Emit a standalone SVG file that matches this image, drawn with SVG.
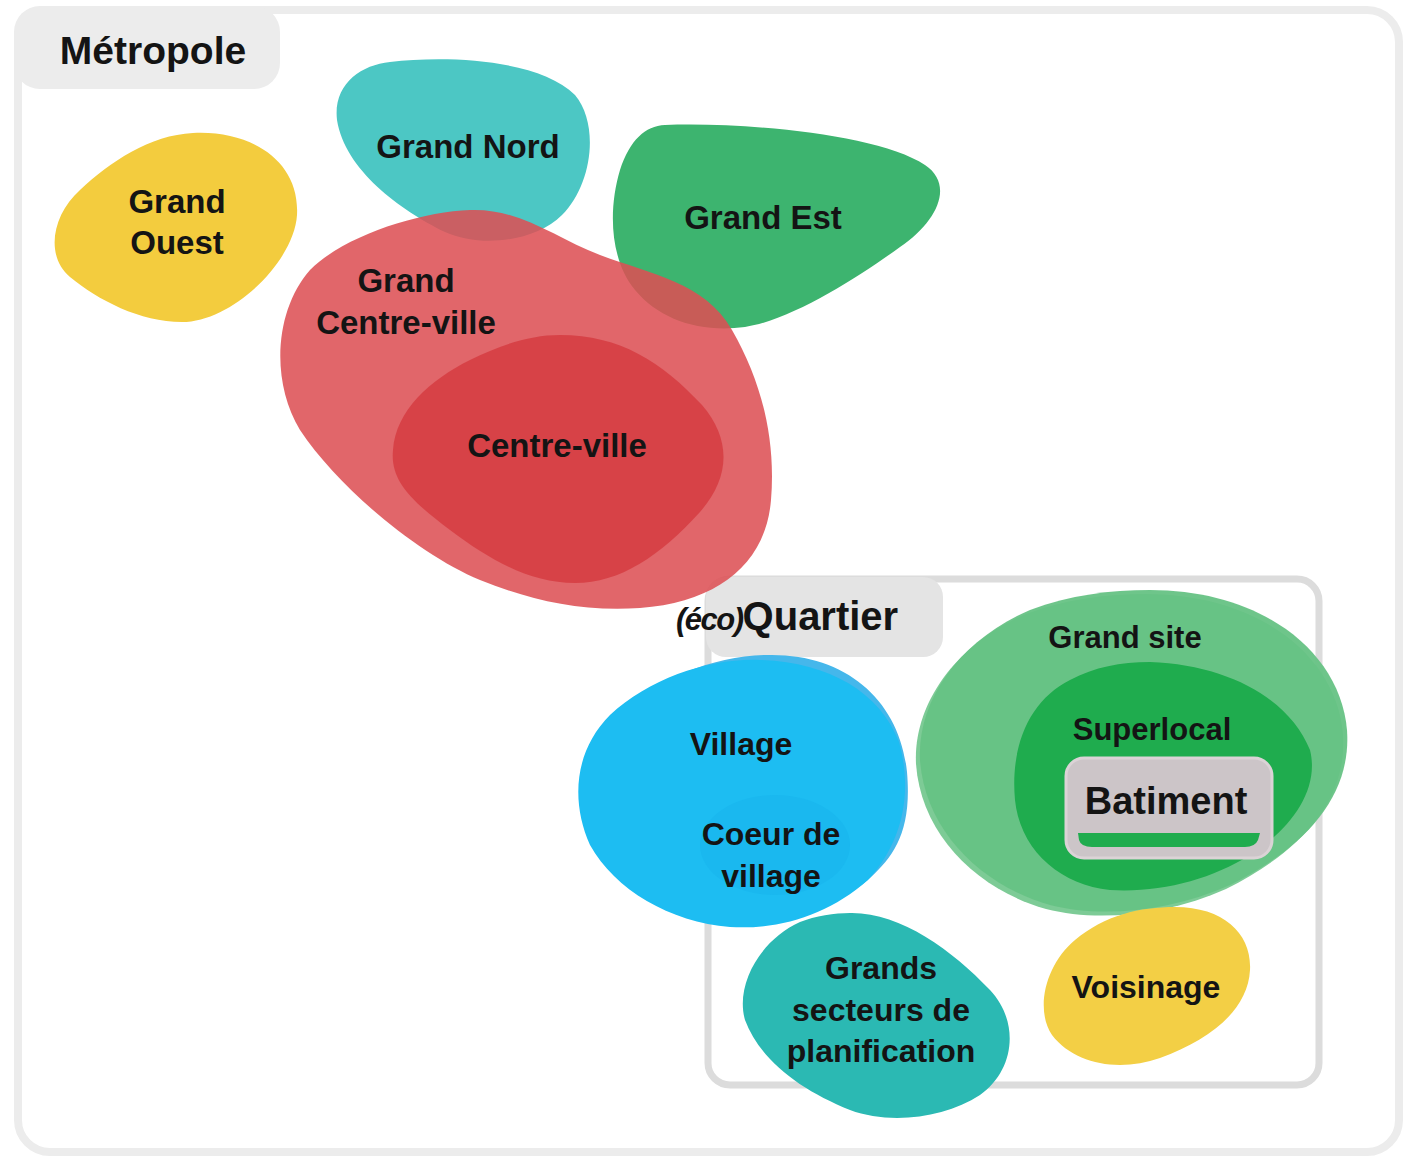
<svg xmlns="http://www.w3.org/2000/svg" width="1410" height="1158" viewBox="0 0 1410 1158">
<style>
.lbl{font-family:"Liberation Sans",Arial,sans-serif;font-weight:700;fill:#141414;text-anchor:middle}
.frame{fill:none;stroke:#ececec;stroke-width:8}
.qframe{fill:none;stroke:#dcdcdc;stroke-width:7}
.tag{fill:#ececec}
</style>
<rect width="1410" height="1158" fill="#ffffff"/>
<g id="metropole">
  <rect class="frame" x="18" y="10" width="1381" height="1142" rx="32"/>
  <rect class="tag" x="14" y="6" width="266" height="83" rx="26"/>
  <text class="lbl" x="153" y="64" font-size="39">Métropole</text>
</g>
<g id="quartier">
  <rect class="qframe" x="708" y="579" width="611" height="506" rx="22"/>
  <rect x="706" y="577" width="237" height="80" rx="20" fill="#e4e4e4"/>
  <text x="676" y="630" font-family="'Liberation Sans',Arial,sans-serif" font-weight="700" fill="#141414" font-size="40"><tspan font-style="italic" font-size="31" letter-spacing="-1.5">(éco)</tspan>Quartier</text>
</g>
<g id="grand-ouest">
  <path d="M193,133 C250,130 300,160 297,215 C294,262 232,322 182,322 C140,322 98,300 70,277 C45,256 52,215 80,190 C110,162 150,135 193,133 Z" fill="#f3cc3e"/>
  <text class="lbl" x="177" y="213" font-size="33">Grand</text>
  <text class="lbl" x="177" y="254" font-size="33">Ouest</text>
</g>
<g id="grand-nord">
  <path d="M390,62 C450,55 540,60 575,95 C600,125 592,185 562,215 C535,242 480,248 445,232 C400,210 345,170 337,120 C333,85 360,65 390,62 Z" fill="#4cc7c4"/>
  <text class="lbl" x="468" y="158" font-size="33">Grand Nord</text>
</g>
<g id="grand-est">
  <path d="M665,125 C750,122 880,135 925,165 C955,185 937,222 900,247 C860,276 792,320 745,327 C700,333 660,320 635,290 C610,260 608,210 620,170 C630,140 645,126 665,125 Z" fill="#3db46f"/>
  <text class="lbl" x="763" y="229" font-size="33">Grand Est</text>
</g>
<g id="grand-centre-ville">
  <path d="M470,210 C520,208 555,238 600,255 C650,274 705,282 732,330 C762,382 776,440 771,500 C766,562 720,602 640,608 C580,612 530,600 480,580 C420,555 340,490 300,430 C270,380 275,310 310,270 C345,235 420,212 470,210 Z" fill="#dd4f54" fill-opacity="0.87"/>
  <text class="lbl" x="406" y="292" font-size="33">Grand</text>
  <text class="lbl" x="406" y="334" font-size="33">Centre-ville</text>
</g>
<g id="centre-ville">
  <path d="M560,335 C620,335 662,362 702,405 C732,440 730,478 700,512 C660,556 620,583 575,583 C530,583 490,560 450,530 C410,500 390,480 393,450 C396,410 430,380 470,360 C500,345 530,335 560,335 Z" fill="#d63e44" fill-opacity="0.9"/>
  <text class="lbl" x="557" y="457" font-size="33">Centre-ville</text>
</g>
<g id="village">
  <path d="M772,655 C848,655 900,702 907,772 C912,830 895,855 870,878 C830,912 780,928 730,925 C670,920 620,890 595,845 C575,800 580,750 615,715 C655,678 720,654 772,655 Z" fill="#45b7eb"/>
  <path d="M760,660 C828,662 880,692 899,742 C913,792 903,842 868,880 C828,915 780,930 730,927 C670,922 615,890 590,845 C570,800 575,750 610,715 C650,678 710,658 760,660 Z" fill="#1dbdf2"/>
  <ellipse cx="775" cy="845" rx="75" ry="50" fill="#1ab8ef"/>
  <text class="lbl" x="741" y="755" font-size="32">Village</text>
  <text class="lbl" x="771" y="845" font-size="32">Coeur de</text>
  <text class="lbl" x="771" y="887" font-size="32">village</text>
</g>
<g id="grand-site">
  <path d="M1146,594 C1256,594 1336,654 1343,734 C1348,804 1296,854 1226,889 C1166,916 1096,922 1046,909 C976,889 921,834 916,764 C913,704 956,644 1026,614 C1066,599 1106,594 1146,594 Z" fill="#7dcb96"/>
  <path d="M1150,590 C1260,590 1340,650 1347,730 C1352,800 1300,850 1230,885 C1170,912 1100,918 1050,905 C980,885 925,830 920,760 C917,700 960,640 1030,610 C1070,595 1110,590 1150,590 Z" fill="#66c284" fill-opacity="0.95"/>
  <text class="lbl" x="1125" y="648" font-size="31">Grand site</text>
</g>
<g id="superlocal">
  <path d="M1150,662 C1230,665 1290,700 1310,750 C1320,790 1290,830 1250,855 C1210,880 1160,893 1110,890 C1060,885 1020,850 1015,800 C1010,745 1030,700 1070,680 C1095,667 1120,662 1150,662 Z" fill="#1fac4e"/>
  <text class="lbl" x="1152" y="740" font-size="31">Superlocal</text>
</g>
<g id="batiment">
  <rect x="1066" y="758" width="206" height="100" rx="18" fill="#ccc5c8" stroke="#dbd3d6" stroke-width="3"/>
  <path d="M1078,833 L1260,833 L1258,840 Q1255,847 1245,847 L1092,847 Q1081,847 1079,840 Z" fill="#1fac4e"/>
  <text class="lbl" x="1166" y="814" font-size="38">Batiment</text>
</g>
<g id="grands-secteurs">
  <path d="M850,913 C900,912 952,950 990,990 C1020,1022 1015,1070 980,1095 C945,1118 890,1125 850,1110 C800,1090 760,1060 745,1020 C735,985 760,940 800,922 C815,916 835,913 850,913 Z" fill="#2bb9b3"/>
  <text class="lbl" x="881" y="979" font-size="32">Grands</text>
  <text class="lbl" x="881" y="1021" font-size="32">secteurs de</text>
  <text class="lbl" x="881" y="1062" font-size="32">planification</text>
</g>
<g id="voisinage">
  <path d="M1175,907 C1225,907 1252,935 1250,970 C1248,1010 1210,1040 1160,1058 C1120,1072 1075,1065 1052,1035 C1035,1010 1045,965 1075,940 C1105,915 1140,907 1175,907 Z" fill="#f3cf45"/>
  <text class="lbl" x="1146" y="998" font-size="32">Voisinage</text>
</g>
<g id="connectors"/>
</svg>
